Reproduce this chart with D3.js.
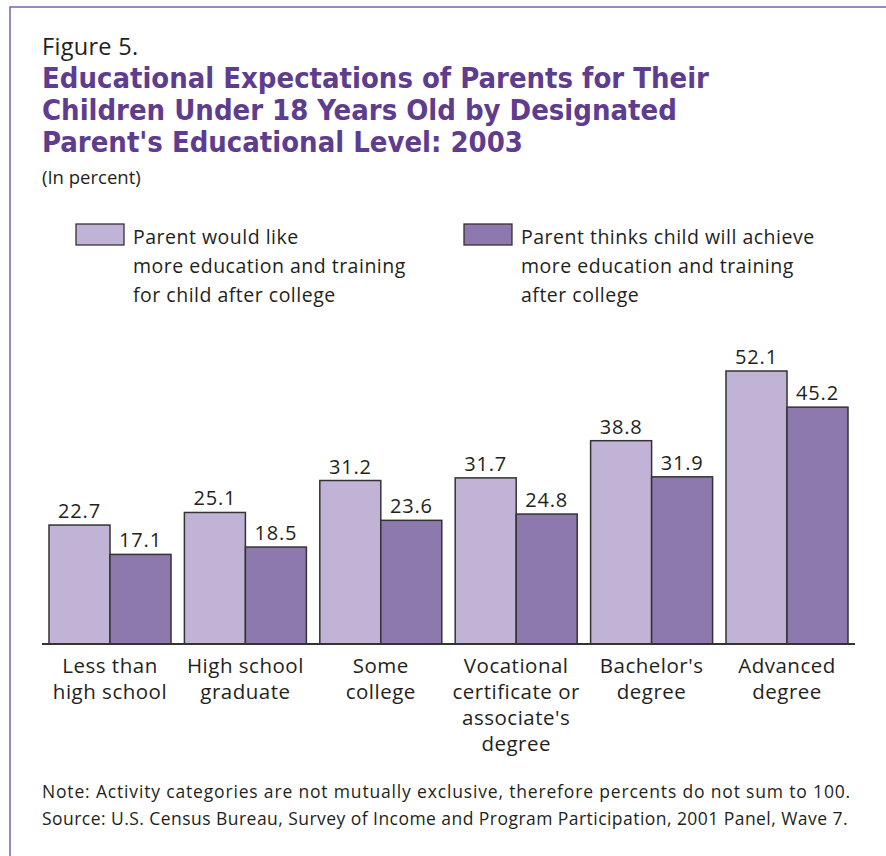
<!DOCTYPE html>
<html><head><meta charset="utf-8">
<script src="https://cdn.jsdelivr.net/npm/d3@7"></script>
<style>
html,body{margin:0;padding:0;background:#fff;}
svg{display:block;}
text{font-family:"Open Sans",sans-serif;fill:#231f20;}
text.title{font-family:"Liberation Sans Narrow","DejaVu Sans Condensed",sans-serif;font-weight:bold;fill:#5e3c8f;}
</style></head>
<body><svg id="c" width="886" height="856"></svg>
<script>
const categories = [
  ["Less than","high school"],
  ["High school","graduate"],
  ["Some","college"],
  ["Vocational","certificate or","associate's","degree"],
  ["Bachelor's","degree"],
  ["Advanced","degree"]
];
const seriesNames = ["would","thinks"];
const wouldLike = [22.7, 25.1, 31.2, 31.7, 38.8, 52.1];
const thinksWill = [17.1, 18.5, 23.6, 24.8, 31.9, 45.2];
const legendLabels = [
  ["Parent would like","more education and training","for child after college"],
  ["Parent thinks child will achieve","more education and training","after college"]
];
const colors = ["#c0b3d5","#8e79ae"];
const titleLines = ["Educational Expectations of Parents for Their","Children Under 18 Years Old by Designated","Parent's Educational Level: 2003"];
const noteLines = ["Note: Activity categories are not mutually exclusive, therefore percents do not sum to 100.",
  "Source: U.S. Census Bureau, Survey of Income and Program Participation, 2001 Panel, Wave 7."];

const svg = d3.select("#c");
// border
svg.append("path").attr("d","M10,856V7H886").attr("fill","none").attr("stroke","#7b62a9").attr("stroke-width",1.5);

svg.append("text").attr("x",42).attr("y",55).style("font-size","23.5px").attr("letter-spacing",0.3).text("Figure 5.");
const tt = svg.append("text").attr("class","title").style("font-size","28px");
titleLines.forEach((l,i)=>tt.append("tspan").attr("x",42).attr("y",88+i*32).text(l));
// fit title first line width to ~667px
const firstLen = tt.select("tspan").node().getComputedTextLength();
tt.style("font-size", Math.min(31, 28*667/firstLen).toFixed(2)+"px");
svg.append("text").attr("x",42).attr("y",184).style("font-size","18.5px").text("(In percent)");

// legend
const legX = [76, 464];
legendLabels.forEach((lines,i)=>{
  svg.append("rect").attr("x",legX[i]).attr("y",224).attr("width",48).attr("height",21)
    .attr("fill",colors[i]).attr("stroke","#333").attr("stroke-width",1.3);
  const t = svg.append("text").style("font-size","19.5px").attr("letter-spacing",0.5);
  lines.forEach((l,j)=>t.append("tspan").attr("x",legX[i]+57).attr("y",244+j*29).text(l));
});

const x0 = d3.scaleBand().domain(d3.range(categories.length)).range([49,848]).paddingInner(0.099).paddingOuter(0);
const x1 = d3.scaleBand().domain(seriesNames).range([0,x0.bandwidth()]);
const y = d3.scaleLinear().domain([0,60]).range([644,329.6]);

const data = categories.map((c,i)=>({i, vals:[wouldLike[i], thinksWill[i]]}));
const g = svg.append("g");
data.forEach(d=>{
  d.vals.forEach((v,k)=>{
    const xx = x0(d.i)+x1(seriesNames[k]);
    g.append("rect").attr("x",xx).attr("y",y(v)).attr("width",x1.bandwidth()).attr("height",y(0)-y(v))
      .attr("fill",colors[k]).attr("stroke","#333").attr("stroke-width",1.5);
    g.append("text").attr("x",xx+x1.bandwidth()/2).attr("y",y(v)-7).attr("text-anchor","middle")
      .style("font-size","20px").attr("letter-spacing",0.8).text(v.toFixed(1));
  });
});
// axis baseline
const axis = svg.append("g").attr("transform","translate(0,644)")
  .call(d3.axisBottom(x0).tickSize(0).tickFormat(""));
axis.select(".domain").attr("d","M42,0H855").attr("stroke","#333").attr("stroke-width",2);
// category labels
categories.forEach((c,i)=>{
  const t = svg.append("text").attr("text-anchor","middle").style("font-size","20.5px").attr("letter-spacing",0.5);
  c.forEach((l,j)=>t.append("tspan").attr("x",x0(i)+x0.bandwidth()/2).attr("y",673+j*26).text(l));
});
const noteTargets = [809, 806];
noteLines.forEach((l,i)=>{
  const t = svg.append("text").attr("x",42).attr("y",798+i*26.5).style("font-size","17.5px").text(l);
  const len = t.node().getComputedTextLength();
  t.attr("letter-spacing", ((noteTargets[i]-len)/l.length).toFixed(3));
});
</script></body></html>
